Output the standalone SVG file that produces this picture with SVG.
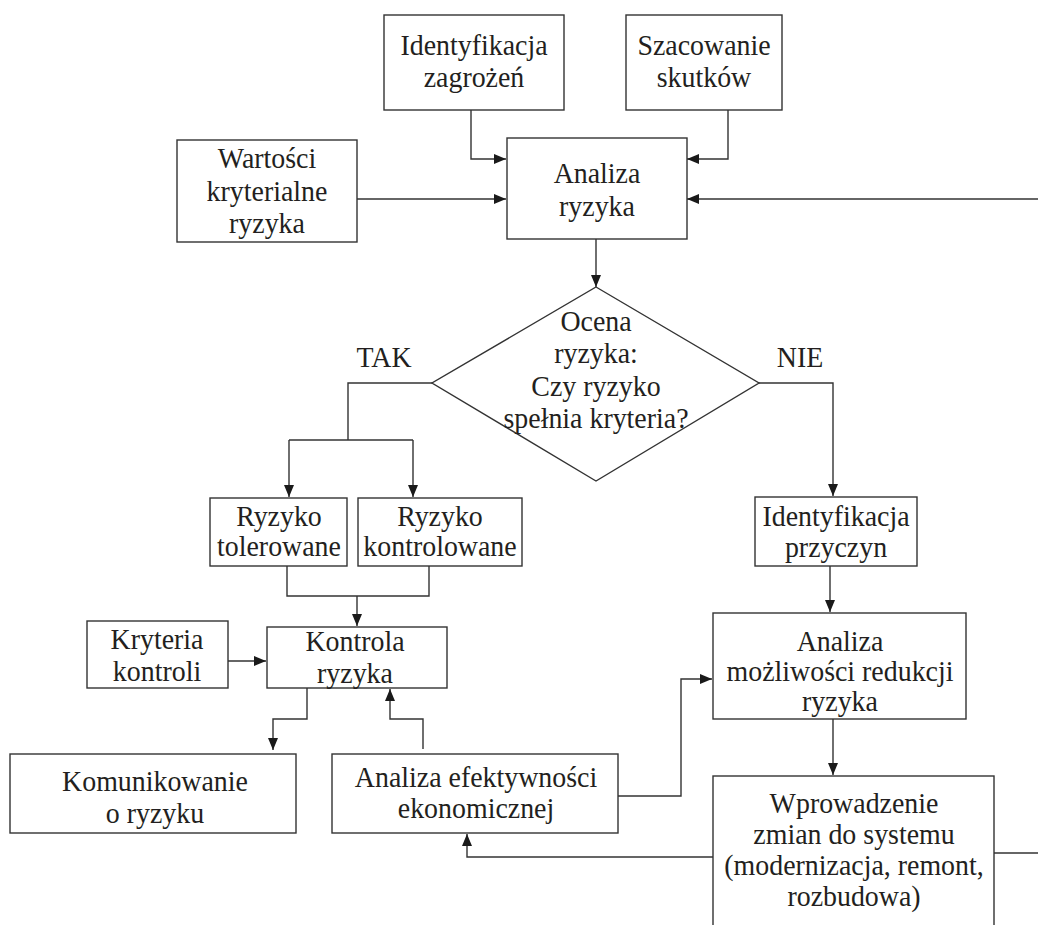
<svg xmlns="http://www.w3.org/2000/svg" width="1038" height="925" viewBox="0 0 1038 925">
<style>
.box{fill:#fff;stroke:#333;stroke-width:1.4}
.t{font-family:"Liberation Serif","Times New Roman",serif;font-size:30px;fill:#231f20;text-anchor:middle}
.c{fill:none;stroke:#333;stroke-width:1.4}
</style>
<defs>
<marker id="ah" markerUnits="userSpaceOnUse" markerWidth="13" markerHeight="11" refX="12" refY="5" orient="auto">
<path d="M0,0 L12,5 L0,10 z" fill="#1a1a1a"/>
</marker>
</defs>
<rect width="1038" height="925" fill="#fff"/>

<g id="connectors">
<path class="c" d="M471,110 V159 H506" marker-end="url(#ah)"/>
<path class="c" d="M728,110 V159 H687" marker-end="url(#ah)"/>
<path class="c" d="M357,199 H506" marker-end="url(#ah)"/>
<path class="c" d="M1038,199 H687" marker-end="url(#ah)"/>
<path class="c" d="M596,239 V287" marker-end="url(#ah)"/>
<path class="c" d="M432,383 H348 V440"/>
<path class="c" d="M289,440 H413"/>
<path class="c" d="M289,440 V497" marker-end="url(#ah)"/>
<path class="c" d="M413,440 V497" marker-end="url(#ah)"/>
<path class="c" d="M759,383 H833 V496" marker-end="url(#ah)"/>
<path class="c" d="M287,566 V596 H429 V566"/>
<path class="c" d="M357,596 V626" marker-end="url(#ah)"/>
<path class="c" d="M228,661 H266" marker-end="url(#ah)"/>
<path class="c" d="M307,688 V719 H273 V750" marker-end="url(#ah)"/>
<path class="c" d="M423,749 V719 H390 V689" marker-end="url(#ah)"/>
<path class="c" d="M830,566 V612" marker-end="url(#ah)"/>
<path class="c" d="M618,796 H681 V679 H712" marker-end="url(#ah)"/>
<path class="c" d="M833,719 V775" marker-end="url(#ah)"/>
<path class="c" d="M713,857 H467 V834" marker-end="url(#ah)"/>
<path class="c" d="M994,853 H1038"/>
</g>

<g id="identyfikacja-zagrozen">
<rect class="box" x="384" y="15" width="180" height="95"/>
<text class="t" transform="matrix(.93 0 0 1 474 55)">Identyfikacja</text>
<text class="t" transform="matrix(.93 0 0 1 474 87)">zagrożeń</text>
</g>
<g id="szacowanie-skutkow">
<rect class="box" x="626" y="15" width="156" height="95"/>
<text class="t" transform="matrix(.93 0 0 1 704 55)">Szacowanie</text>
<text class="t" transform="matrix(.93 0 0 1 704 87)">skutków</text>
</g>
<g id="wartosci-kryterialne">
<rect class="box" x="177" y="140" width="180" height="102"/>
<text class="t" transform="matrix(.93 0 0 1 267 168)">Wartości</text>
<text class="t" transform="matrix(.93 0 0 1 267 201)">kryterialne</text>
<text class="t" transform="matrix(.93 0 0 1 267 233)">ryzyka</text>
</g>
<g id="analiza-ryzyka">
<rect class="box" x="507" y="138" width="180" height="101"/>
<text class="t" transform="matrix(.93 0 0 1 597 183)">Analiza</text>
<text class="t" transform="matrix(.93 0 0 1 597 216)">ryzyka</text>
</g>
<g id="ocena-ryzyka">
<polygon class="box" points="596,287 759,383 596,481 432,383"/>
<text class="t" transform="matrix(.93 0 0 1 596 331)">Ocena</text>
<text class="t" transform="matrix(.93 0 0 1 596 363)">ryzyka:</text>
<text class="t" transform="matrix(.93 0 0 1 596 396)">Czy ryzyko</text>
<text class="t" transform="matrix(.93 0 0 1 596 428)">spełnia kryteria?</text>
</g>
<g id="label-tak">
<text class="t" transform="matrix(.93 0 0 1 384 367)">TAK</text>
</g>
<g id="label-nie">
<text class="t" transform="matrix(.93 0 0 1 800 367)">NIE</text>
</g>
<g id="ryzyko-tolerowane">
<rect class="box" x="210" y="498" width="137" height="68"/>
<text class="t" transform="matrix(.93 0 0 1 279 526)">Ryzyko</text>
<text class="t" transform="matrix(.93 0 0 1 279 556)">tolerowane</text>
</g>
<g id="ryzyko-kontrolowane">
<rect class="box" x="358" y="498" width="164" height="68"/>
<text class="t" transform="matrix(.93 0 0 1 440 526)">Ryzyko</text>
<text class="t" transform="matrix(.93 0 0 1 440 556)">kontrolowane</text>
</g>
<g id="identyfikacja-przyczyn">
<rect class="box" x="755" y="497" width="162" height="69"/>
<text class="t" transform="matrix(.93 0 0 1 836 526)">Identyfikacja</text>
<text class="t" transform="matrix(.93 0 0 1 836 557)">przyczyn</text>
</g>
<g id="kryteria-kontroli">
<rect class="box" x="87" y="621" width="141" height="67"/>
<text class="t" transform="matrix(.93 0 0 1 157 649)">Kryteria</text>
<text class="t" transform="matrix(.93 0 0 1 157 681)">kontroli</text>
</g>
<g id="kontrola-ryzyka">
<rect class="box" x="267" y="627" width="180" height="61"/>
<text class="t" transform="matrix(.93 0 0 1 355 651)">Kontrola</text>
<text class="t" transform="matrix(.93 0 0 1 355 683)">ryzyka</text>
</g>
<g id="komunikowanie">
<rect class="box" x="10" y="754" width="286" height="79"/>
<text class="t" transform="matrix(.93 0 0 1 155 791)">Komunikowanie</text>
<text class="t" transform="matrix(.93 0 0 1 155 823)">o ryzyku</text>
</g>
<g id="analiza-efektywnosci">
<rect class="box" x="332" y="754" width="286" height="79"/>
<text class="t" transform="matrix(.93 0 0 1 476 787)">Analiza efektywności</text>
<text class="t" transform="matrix(.93 0 0 1 476 818)">ekonomicznej</text>
</g>
<g id="analiza-mozliwosci">
<rect class="box" x="713" y="613" width="253" height="106"/>
<text class="t" transform="matrix(.93 0 0 1 840 651)">Analiza</text>
<text class="t" transform="matrix(.93 0 0 1 840 681)">możliwości redukcji</text>
<text class="t" transform="matrix(.93 0 0 1 840 711)">ryzyka</text>
</g>
<g id="wprowadzenie-zmian">
<rect class="box" x="713" y="776" width="281" height="170"/>
<text class="t" transform="matrix(.93 0 0 1 854 813)">Wprowadzenie</text>
<text class="t" transform="matrix(.93 0 0 1 854 844)">zmian do systemu</text>
<text class="t" transform="matrix(.93 0 0 1 854 875)">(modernizacja, remont,</text>
<text class="t" transform="matrix(.93 0 0 1 854 906)">rozbudowa)</text>
</g>
</svg>
